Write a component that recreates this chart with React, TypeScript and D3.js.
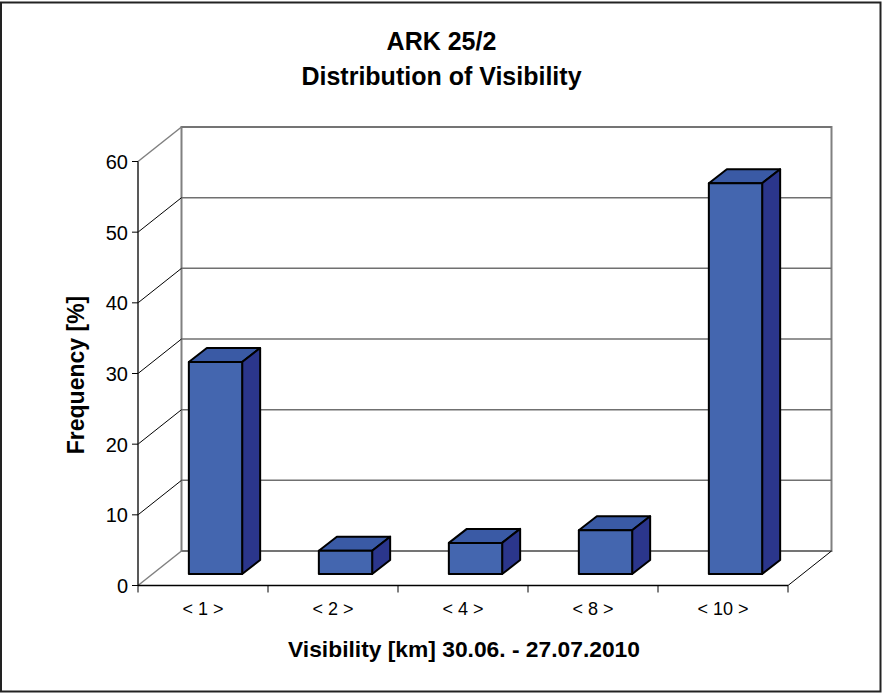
import React from 'react'
import * as d3 from 'd3'

const categories = ['< 1 >', '< 2 >', '< 4 >', '< 8 >', '< 10 >']
const frequency = [30, 3.3, 4.4, 6.2, 55.3]
const yTicks = [0, 10, 20, 30, 40, 50, 60]

const titleLines = ['ARK 25/2', 'Distribution of Visibility']
const xTitle = 'Visibility [km] 30.06. - 27.07.2010'
const yTitle = 'Frequency [%]'

const font = '"Liberation Sans", Arial, sans-serif'

// 3d offsets of the box: wall is shifted from the front plane, bars sit halfway in
const wall = { dx: 43.5, dy: -34.5 }
const barFront = { dx: 12.5, dy: -11.5 }
const barDepth = { dx: 18, dy: -14 }

export default function App() {
  const x = d3.scaleBand().domain(categories).range([138, 788])
  const y = d3.scaleLinear().domain([0, 60]).range([585.5, 161.5])
  const barW = x.bandwidth() * 0.41
  const barOff = (x.bandwidth() - barW) / 2 + barFront.dx

  const poly = (pts: [number, number][]) => d3.line()(pts) + 'Z'

  return (
    <svg width={882} height={693} style={{ position: 'absolute', left: 0, top: 0, background: '#fff' }} fontFamily={font}>
      <rect x={1} y={2.5} width={879.5} height={689} fill="#fff" stroke="#222" strokeWidth={2} />

      {titleLines.map((t, i) => (
        <text key={t} x={441.5} y={50 + i * 34.5} textAnchor="middle" fontSize={25} fontWeight="bold" fill="#000">
          {t}
        </text>
      ))}

      {/* back wall */}
      <path
        d={poly([
          [138 + wall.dx, y(0) + wall.dy],
          [138 + wall.dx, y(60) + wall.dy],
          [788 + wall.dx, y(60) + wall.dy],
          [788 + wall.dx, y(0) + wall.dy],
        ])}
        fill="#fff"
        stroke="#808080"
        strokeWidth={2}
      />

      {/* gridlines and side wall */}
      {yTicks.map(t => (
        <g key={t}>
          <line x1={138 + wall.dx} x2={788 + wall.dx} y1={y(t) + wall.dy} y2={y(t) + wall.dy} stroke="#707070" strokeWidth={1.5} />
          <line
            x1={138}
            x2={138 + wall.dx}
            y1={y(t)}
            y2={y(t) + wall.dy}
            stroke={t === 0 || t === 60 ? '#808080' : '#000'}
            strokeWidth={t === 0 || t === 60 ? 1.5 : 1}
          />
        </g>
      ))}
      <line x1={788} x2={788 + wall.dx} y1={y(0)} y2={y(0) + wall.dy} stroke="#000" strokeWidth={1} />

      {/* bars */}
      {categories.map((c, i) => {
        const x0 = (x(c) as number) + barOff
        const x1 = x0 + barW
        const yb = y(0) + barFront.dy
        const yt = y(frequency[i]) + barFront.dy
        const { dx, dy } = barDepth
        return (
          <g key={c} stroke="#000" strokeWidth={2} strokeLinejoin="round">
            <path d={poly([[x0, yt], [x0 + dx, yt + dy], [x1 + dx, yt + dy], [x1, yt]])} fill="#3A5AA5" />
            <path d={poly([[x1, yt], [x1 + dx, yt + dy], [x1 + dx, yb + dy], [x1, yb]])} fill="#2B368C" />
            <rect x={x0} y={yt} width={barW} height={yb - yt} fill="#4466AF" />
          </g>
        )
      })}

      {/* axes */}
      <line x1={138} x2={138} y1={y(60)} y2={y(0)} stroke="#222" strokeWidth={1.5} />
      <line x1={138} x2={788} y1={y(0)} y2={y(0)} stroke="#000" strokeWidth={1.5} />
      {yTicks.map(t => (
        <g key={t}>
          <line x1={132} x2={138} y1={y(t)} y2={y(t)} stroke="#000" strokeWidth={1} />
          <text x={128} y={y(t) + 7.5} textAnchor="end" fontSize={20} fill="#000">
            {t}
          </text>
        </g>
      ))}
      {[...categories.map(c => x(c) as number), 788].map(v => (
        <line key={v} x1={v} x2={v} y1={y(0)} y2={y(0) + 7} stroke="#000" strokeWidth={1} />
      ))}
      {categories.map(c => (
        <text key={c} x={(x(c) as number) + x.bandwidth() / 2} y={615} textAnchor="middle" fontSize={18} fill="#000">
          {c}
        </text>
      ))}

      <text x={464} y={657} textAnchor="middle" fontSize={22.8} fontWeight="bold" fill="#000">
        {xTitle}
      </text>
      <text transform="translate(84,375) rotate(-90)" textAnchor="middle" fontSize={23} fontWeight="bold" fill="#000">
        {yTitle}
      </text>
    </svg>
  )
}
